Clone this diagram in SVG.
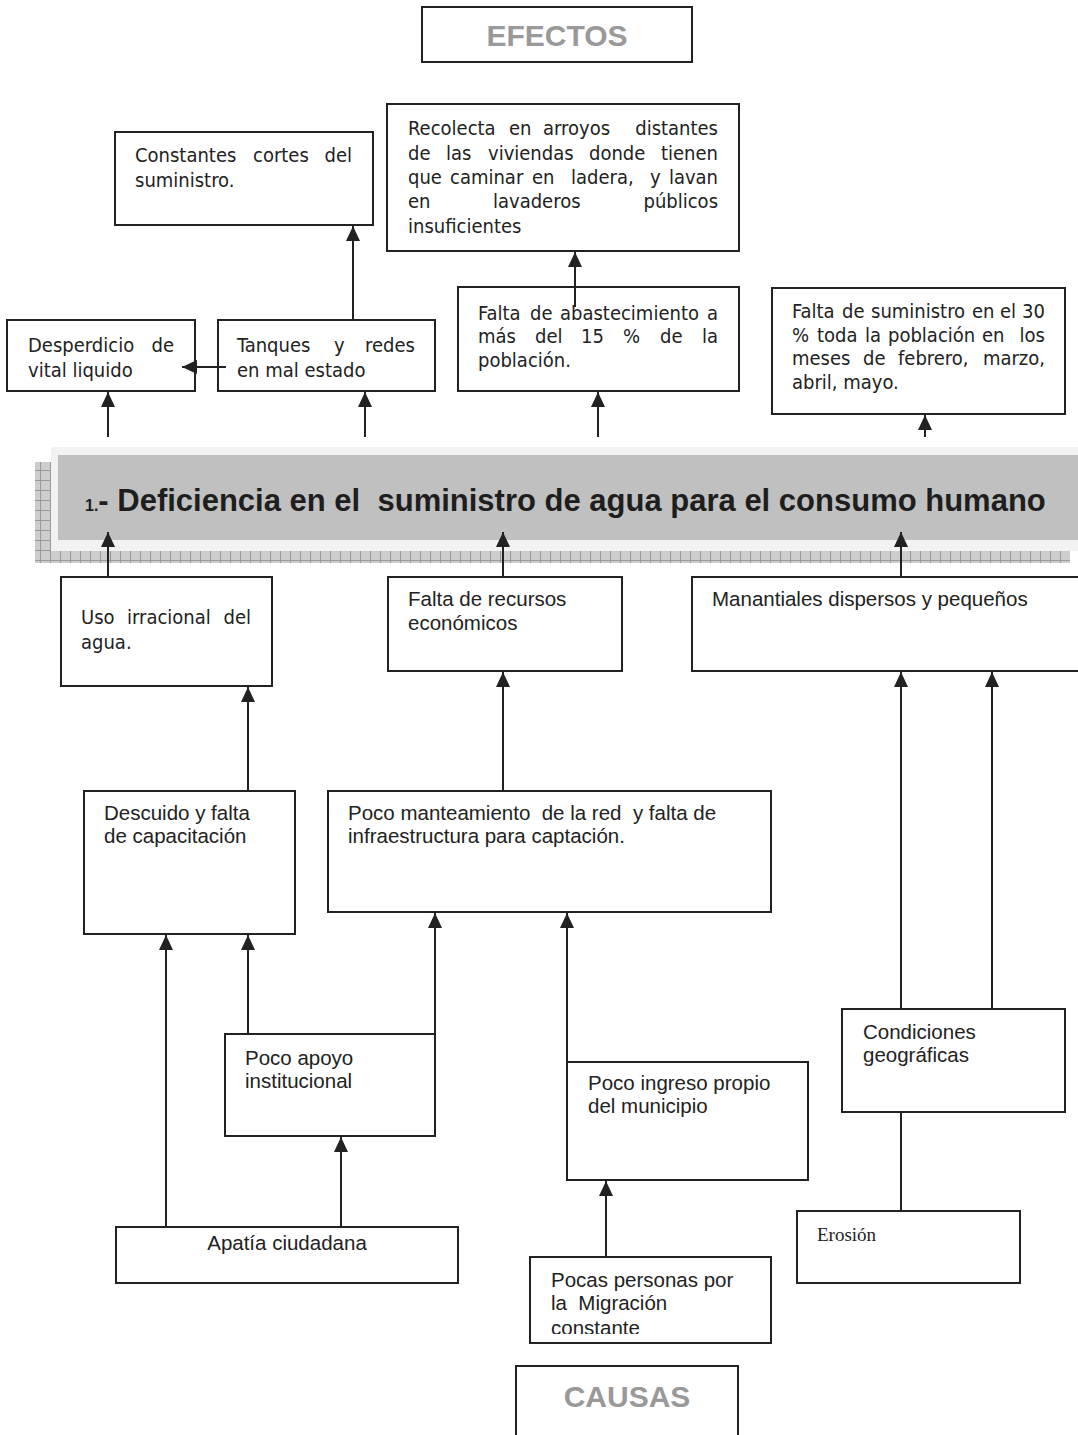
<svg xmlns="http://www.w3.org/2000/svg" width="1078" height="1435" viewBox="0 0 1078 1435">
<style>
.box{fill:#fff;stroke:#222;stroke-width:2}
.t1{font-family:"DejaVu Sans Condensed","DejaVu Sans",sans-serif;font-stretch:condensed;font-size:20px;fill:#222}
.t2{font-family:"Liberation Sans",Arial,sans-serif;font-size:20.5px;fill:#222}
.t3{font-family:"Liberation Serif","Times New Roman",serif;font-size:19px;fill:#222}
.hd{font-family:"Liberation Sans",Arial,sans-serif;font-weight:bold;font-size:30px;fill:#999;text-anchor:middle}
.end{text-anchor:end}
.conn line{stroke:#222;stroke-width:2}
</style>
<defs>
<marker id="arr" markerUnits="userSpaceOnUse" viewBox="0 0 15 14" refX="15" refY="7" markerWidth="15" markerHeight="14" orient="auto">
<path d="M0,0 L15,7 L0,14 z" fill="#222"/>
</marker>
<pattern id="hatch" width="10" height="10" patternUnits="userSpaceOnUse">
<rect width="10" height="10" fill="#cdcdcd"/>
<path d="M0,0.5H10M0.5,0V10" stroke="#9a9a9a" stroke-width="1"/>
</pattern>
<clipPath id="clipPocas"><rect x="530" y="1257" width="241" height="77"/></clipPath>
</defs>
<rect width="1078" height="1435" fill="#fff"/>

<g id="n-efectos"><rect class="box" x="422" y="7" width="270" height="55"/><text class="hd" x="557" y="46">EFECTOS</text></g>

<g id="n-constantes"><rect class="box" x="115" y="132" width="258" height="93"/>
<text class="t1" y="162"><tspan x="135">Constantes</tspan><tspan x="253">cortes</tspan></text><text class="t1 end" x="352" y="162">del</text>
<text class="t1" x="135" y="187">suministro.</text></g>

<g id="n-recolecta"><rect class="box" x="387" y="104" width="352" height="147"/>
<text class="t1" y="135"><tspan x="408">Recolecta</tspan><tspan x="509">en</tspan><tspan x="543">arroyos</tspan></text><text class="t1 end" x="718" y="135">distantes</text>
<text class="t1" y="160"><tspan x="408">de</tspan><tspan x="446">las</tspan><tspan x="488">viviendas</tspan><tspan x="589">donde</tspan></text><text class="t1 end" x="718" y="160">tienen</text>
<text class="t1" y="184"><tspan x="408">que</tspan><tspan x="450">caminar</tspan><tspan x="532">en</tspan><tspan x="571">ladera,</tspan><tspan x="650">y</tspan></text><text class="t1 end" x="718" y="184">lavan</text>
<text class="t1" y="208"><tspan x="408">en</tspan><tspan x="493">lavaderos</tspan></text><text class="t1 end" x="718" y="208">públicos</text>
<text class="t1" x="408" y="233">insuficientes</text></g>

<g id="n-desperdicio"><rect class="box" x="7" y="320" width="188" height="71"/>
<text class="t1" x="28" y="352">Desperdicio</text><text class="t1 end" x="174" y="352">de</text>
<text class="t1" x="28" y="377">vital liquido</text></g>

<g id="n-tanques"><rect class="box" x="218" y="320" width="217" height="71"/>
<text class="t1" y="352"><tspan x="237">Tanques</tspan><tspan x="334">y</tspan></text><text class="t1 end" x="415" y="352">redes</text>
<text class="t1" x="237" y="377">en mal estado</text></g>

<g id="n-abastecimiento"><rect class="box" x="458" y="287" width="281" height="104"/>
<text class="t1" y="320"><tspan x="478">Falta</tspan><tspan x="530">de</tspan><tspan x="560">abastecimiento</tspan></text><text class="t1 end" x="718" y="320">a</text>
<text class="t1" y="343"><tspan x="478">más</tspan><tspan x="535">del</tspan><tspan x="581">15</tspan><tspan x="623">%</tspan><tspan x="660">de</tspan></text><text class="t1 end" x="718" y="343">la</text>
<text class="t1" x="478" y="367">población.</text></g>

<g id="n-suministro"><rect class="box" x="772" y="288" width="293" height="126"/>
<text class="t1" y="318"><tspan x="792">Falta</tspan><tspan x="842">de</tspan><tspan x="871">suministro</tspan><tspan x="972">en</tspan><tspan x="1000">el</tspan></text><text class="t1 end" x="1045" y="318">30</text>
<text class="t1" y="342"><tspan x="792">%</tspan><tspan x="817">toda</tspan><tspan x="865">la</tspan><tspan x="888">población</tspan><tspan x="982">en</tspan></text><text class="t1 end" x="1045" y="342">los</text>
<text class="t1" y="365"><tspan x="792">meses</tspan><tspan x="863">de</tspan><tspan x="898">febrero,</tspan></text><text class="t1 end" x="1045" y="365">marzo,</text>
<text class="t1" x="792" y="389">abril, mayo.</text></g>

<g id="n-problema">
<path d="M35,462 H51 V551 H1070 V563 H35 Z" fill="url(#hatch)"/>
<rect x="51" y="447" width="1030" height="104" fill="#f2f2f2"/>
<rect x="58" y="455" width="1023" height="85" fill="#c0c0c0"/>
<text xml:space="preserve" y="511" style="font-family:'Liberation Sans',Arial,sans-serif;font-weight:bold;fill:#1e1e1e"><tspan x="85" font-size="16">1.</tspan><tspan font-size="31">- Deficiencia en el  suministro de agua para el consumo humano</tspan></text>
</g>

<g id="n-uso"><rect class="box" x="61" y="577" width="211" height="109"/>
<text class="t1" y="624"><tspan x="81">Uso</tspan><tspan x="127">irracional</tspan></text><text class="t1 end" x="251" y="624">del</text>
<text class="t1" x="81" y="649">agua.</text></g>

<g id="n-recursos"><rect class="box" x="388" y="577" width="234" height="94"/>
<text class="t2" x="408" y="606">Falta de recursos</text><text class="t2" x="408" y="630">económicos</text></g>

<g id="n-manantiales"><rect class="box" x="692" y="577" width="400" height="94"/>
<text class="t2" x="712" y="606">Manantiales dispersos y pequeños</text></g>

<g id="n-descuido"><rect class="box" x="84" y="791" width="211" height="143"/>
<text class="t2" x="104" y="820">Descuido y falta</text><text class="t2" x="104" y="843">de capacitación</text></g>

<g id="n-mantenimiento"><rect class="box" x="328" y="791" width="443" height="121"/>
<text class="t2" xml:space="preserve" x="348" y="820">Poco manteamiento  de la red  y falta de</text><text class="t2" x="348" y="843">infraestructura para captación.</text></g>

<g id="n-apoyo"><rect class="box" x="225" y="1034" width="210" height="102"/>
<text class="t2" x="245" y="1065">Poco apoyo</text><text class="t2" x="245" y="1088">institucional</text></g>

<g id="n-ingreso"><rect class="box" x="567" y="1062" width="241" height="118"/>
<text class="t2" x="588" y="1090">Poco ingreso propio</text><text class="t2" x="588" y="1113">del municipio</text></g>

<g id="n-condiciones"><rect class="box" x="842" y="1009" width="223" height="103"/>
<text class="t2" x="863" y="1039">Condiciones</text><text class="t2" x="863" y="1062">geográficas</text></g>

<g id="n-apatia"><rect class="box" x="116" y="1227" width="342" height="56"/>
<text class="t2" x="287" y="1250" text-anchor="middle">Apatía ciudadana</text></g>

<g id="n-erosion"><rect class="box" x="797" y="1211" width="223" height="72"/>
<text class="t3" x="817" y="1241">Erosión</text></g>

<g id="n-pocas"><rect class="box" x="530" y="1257" width="241" height="86"/>
<g clip-path="url(#clipPocas)"><text class="t2" x="551" y="1287">Pocas personas por</text><text class="t2" xml:space="preserve" x="551" y="1310">la  Migración</text><text class="t2" x="551" y="1335">constante</text></g></g>

<g id="n-causas"><rect class="box" x="516" y="1366" width="222" height="80"/><text class="hd" x="627" y="1407">CAUSAS</text></g>

<g id="connectors" class="conn">
<line x1="108" y1="437" x2="108" y2="392" marker-end="url(#arr)"/>
<line x1="365" y1="437" x2="365" y2="392" marker-end="url(#arr)"/>
<line x1="598" y1="437" x2="598" y2="392" marker-end="url(#arr)"/>
<line x1="925" y1="437" x2="925" y2="415" marker-end="url(#arr)"/>
<line x1="353" y1="320" x2="353" y2="226" marker-end="url(#arr)"/>
<line x1="226" y1="367" x2="182" y2="367" marker-end="url(#arr)"/>
<line x1="575" y1="307" x2="575" y2="252" marker-end="url(#arr)"/>
<line x1="108" y1="577" x2="108" y2="532" marker-end="url(#arr)"/>
<line x1="503" y1="577" x2="503" y2="532" marker-end="url(#arr)"/>
<line x1="901" y1="577" x2="901" y2="532" marker-end="url(#arr)"/>
<line x1="248" y1="791" x2="248" y2="687" marker-end="url(#arr)"/>
<line x1="503" y1="791" x2="503" y2="672" marker-end="url(#arr)"/>
<line x1="901" y1="1009" x2="901" y2="672" marker-end="url(#arr)"/>
<line x1="992" y1="1009" x2="992" y2="672" marker-end="url(#arr)"/>
<line x1="166" y1="1227" x2="166" y2="935" marker-end="url(#arr)"/>
<line x1="248" y1="1034" x2="248" y2="935" marker-end="url(#arr)"/>
<line x1="435" y1="1034" x2="435" y2="913" marker-end="url(#arr)"/>
<line x1="341" y1="1227" x2="341" y2="1137" marker-end="url(#arr)"/>
<line x1="567" y1="1062" x2="567" y2="913" marker-end="url(#arr)"/>
<line x1="606" y1="1257" x2="606" y2="1181" marker-end="url(#arr)"/>
<line x1="901" y1="1211" x2="901" y2="1112"/>
</g>
</svg>
